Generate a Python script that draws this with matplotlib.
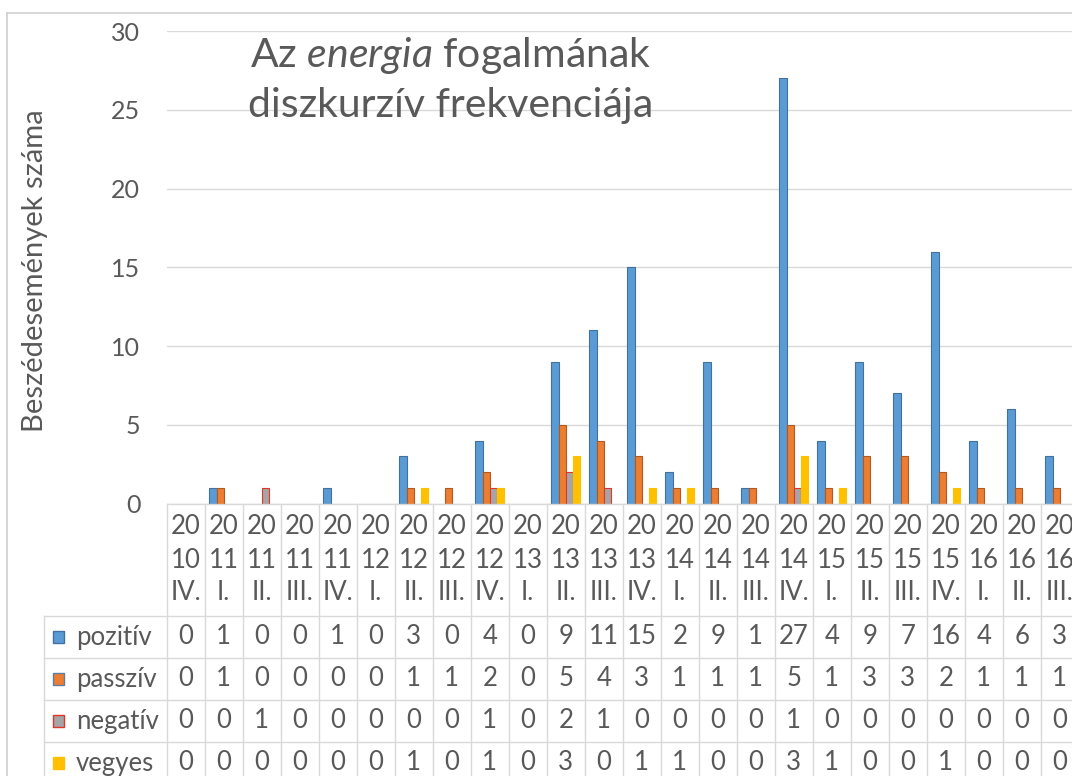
import matplotlib
matplotlib.use('Agg')
import matplotlib.pyplot as plt
import numpy as np
from matplotlib.transforms import blended_transform_factory
from matplotlib.lines import Line2D
from matplotlib.patches import Rectangle

# ---- data ----
year_top = ['20'] * 24
year_bottom = ['10', '11', '11', '11', '11', '12', '12', '12', '12', '13', '13', '13',
               '13', '14', '14', '14', '14', '15', '15', '15', '15', '16', '16', '16']
quarters = ['IV.', 'I.', 'II.', 'III.', 'IV.', 'I.', 'II.', 'III.', 'IV.', 'I.', 'II.', 'III.',
            'IV.', 'I.', 'II.', 'III.', 'IV.', 'I.', 'II.', 'III.', 'IV.', 'I.', 'II.', 'III.']
pozitiv = [0, 1, 0, 0, 1, 0, 3, 0, 4, 0, 9, 11, 15, 2, 9, 1, 27, 4, 9, 7, 16, 4, 6, 3]
passziv = [0, 1, 0, 0, 0, 0, 1, 1, 2, 0, 5, 4, 3, 1, 1, 1, 5, 1, 3, 3, 2, 1, 1, 1]
negativ = [0, 0, 1, 0, 0, 0, 0, 0, 1, 0, 2, 1, 0, 0, 0, 0, 1, 0, 0, 0, 0, 0, 0, 0]
vegyes = [0, 0, 0, 0, 0, 0, 1, 0, 1, 0, 3, 0, 1, 1, 0, 0, 3, 1, 0, 0, 1, 0, 0, 0]
series_names = ['pozitív', 'passzív', 'negatív', 'vegyes']
y_ticks = [0, 5, 10, 15, 20, 25, 30]
y_label = 'Beszédesemények száma'

# ---- style ----
FONT = ['Lato', 'DejaVu Sans']
plt.rcParams['font.family'] = FONT
plt.rcParams['mathtext.fontset'] = 'custom'
plt.rcParams['mathtext.rm'] = 'Lato'
plt.rcParams['mathtext.it'] = 'Lato:italic'
TXT = '#595959'
GRID = '#D9D9D9'
fills = ['#5B9BD5', '#ED7D31', '#A5A5A5', '#FFC000']
edges = ['#41719C', '#AE5A21', '#E0352B', '#FFC000']
key_edges = ['#41719C', '#5B7FA8', '#E0352B', '#FFC000']

W, H = 1072, 776
def fx(px):
    return px / W
def fy(py):
    return 1 - py / H

fig = plt.figure(figsize=(W / 100, H / 100), dpi=100)
fig.patch.set_facecolor('white')

x_left, col_w = 166.7, 38.0
y_top, y_zero = 31.0, 503.5
n = len(quarters)
ax = fig.add_axes([fx(x_left), fy(y_zero), n * col_w / W, (y_zero - y_top) / H])

series = [pozitiv, passziv, negativ, vegyes]
x = np.arange(n)
bw = 0.187
for k, (vals, fc, ec) in enumerate(zip(series, fills, edges)):
    v = np.array(vals, dtype=float)
    m = v > 0
    ax.bar(x[m] + (k - 1.5) * bw, v[m], width=bw, color=fc, edgecolor=ec,
           linewidth=0.8, zorder=3)

ax.set_xlim(-0.5, n - 0.5)
ax.set_ylim(0, 30)
ax.set_yticks(y_ticks)
ax.set_yticklabels([str(t) for t in y_ticks], fontsize=18, color=TXT)
ax.tick_params(axis='y', length=0, pad=19)
ax.set_xticks([])
for s in ax.spines.values():
    s.set_visible(False)
ax.yaxis.grid(True, color=GRID, linewidth=1.0, zorder=0)
ax.set_axisbelow(True)

# y label
fig.text(fx(35), fy(271), y_label, rotation=90, ha='center', va='center',
         fontsize=21, color=TXT)

# title
fig.text(fx(451), fy(55), r'Az $\mathit{energia}$ fogalmának', ha='center', va='center',
         fontsize=29.5, color=TXT)
fig.text(fx(451), fy(106), 'diszkurzív frekvenciája', ha='center', va='center',
         fontsize=29.5, color=TXT)

# chart border
fig.add_artist(Line2D([fx(7), 1], [fy(12.5), fy(12.5)], transform=fig.transFigure,
                      color='#D0D0D0', linewidth=1.2))
fig.add_artist(Line2D([fx(7.3), fx(7.3)], [fy(12.5), 0], transform=fig.transFigure,
                      color='#D0D0D0', linewidth=1.2))

# ---- data table ----
trans = blended_transform_factory(ax.transData, fig.transFigure)
fig.add_artist(Line2D([fx(x_left), 1], [fy(y_zero), fy(y_zero)], transform=fig.transFigure,
                      color=GRID, linewidth=1.0))
row_lines = [616, 658, 700, 742]
for ry in row_lines:
    fig.add_artist(Line2D([fx(44), 1], [fy(ry), fy(ry)], transform=fig.transFigure,
                          color=GRID, linewidth=1.0))
fig.add_artist(Line2D([fx(44), fx(44)], [fy(616), 0], transform=fig.transFigure,
                      color=GRID, linewidth=1.0))
for i in range(n + 1):
    fig.add_artist(Line2D([i - 0.5, i - 0.5], [fy(y_zero), 0], transform=trans,
                          color=GRID, linewidth=1.0))

TFS = 18.5
for i in range(n):
    fig.text(i, fy(526), year_top[i], transform=trans, ha='center', va='center',
             fontsize=TFS, color=TXT)
    fig.text(i, fy(560), year_bottom[i], transform=trans, ha='center', va='center',
             fontsize=TFS, color=TXT)
    fig.text(i, fy(593), quarters[i], transform=trans, ha='center', va='center',
             fontsize=TFS, color=TXT)

row_centers = [637, 679, 721, 763]
for r, (name, vals) in enumerate(zip(series_names, series)):
    cy = row_centers[r]
    fig.add_artist(Rectangle((fx(53), fy(cy + 6)), 11 / W, 12 / H, transform=fig.transFigure,
                             facecolor=fills[r], edgecolor=key_edges[r], linewidth=1.0))
    fig.text(fx(76), fy(cy), name, ha='left', va='center', fontsize=TFS, color=TXT)
    for i, v in enumerate(vals):
        fig.text(i, fy(cy), str(v), transform=trans, ha='center', va='center',
                 fontsize=TFS, color=TXT)

fig.savefig('out.png', dpi=100)
